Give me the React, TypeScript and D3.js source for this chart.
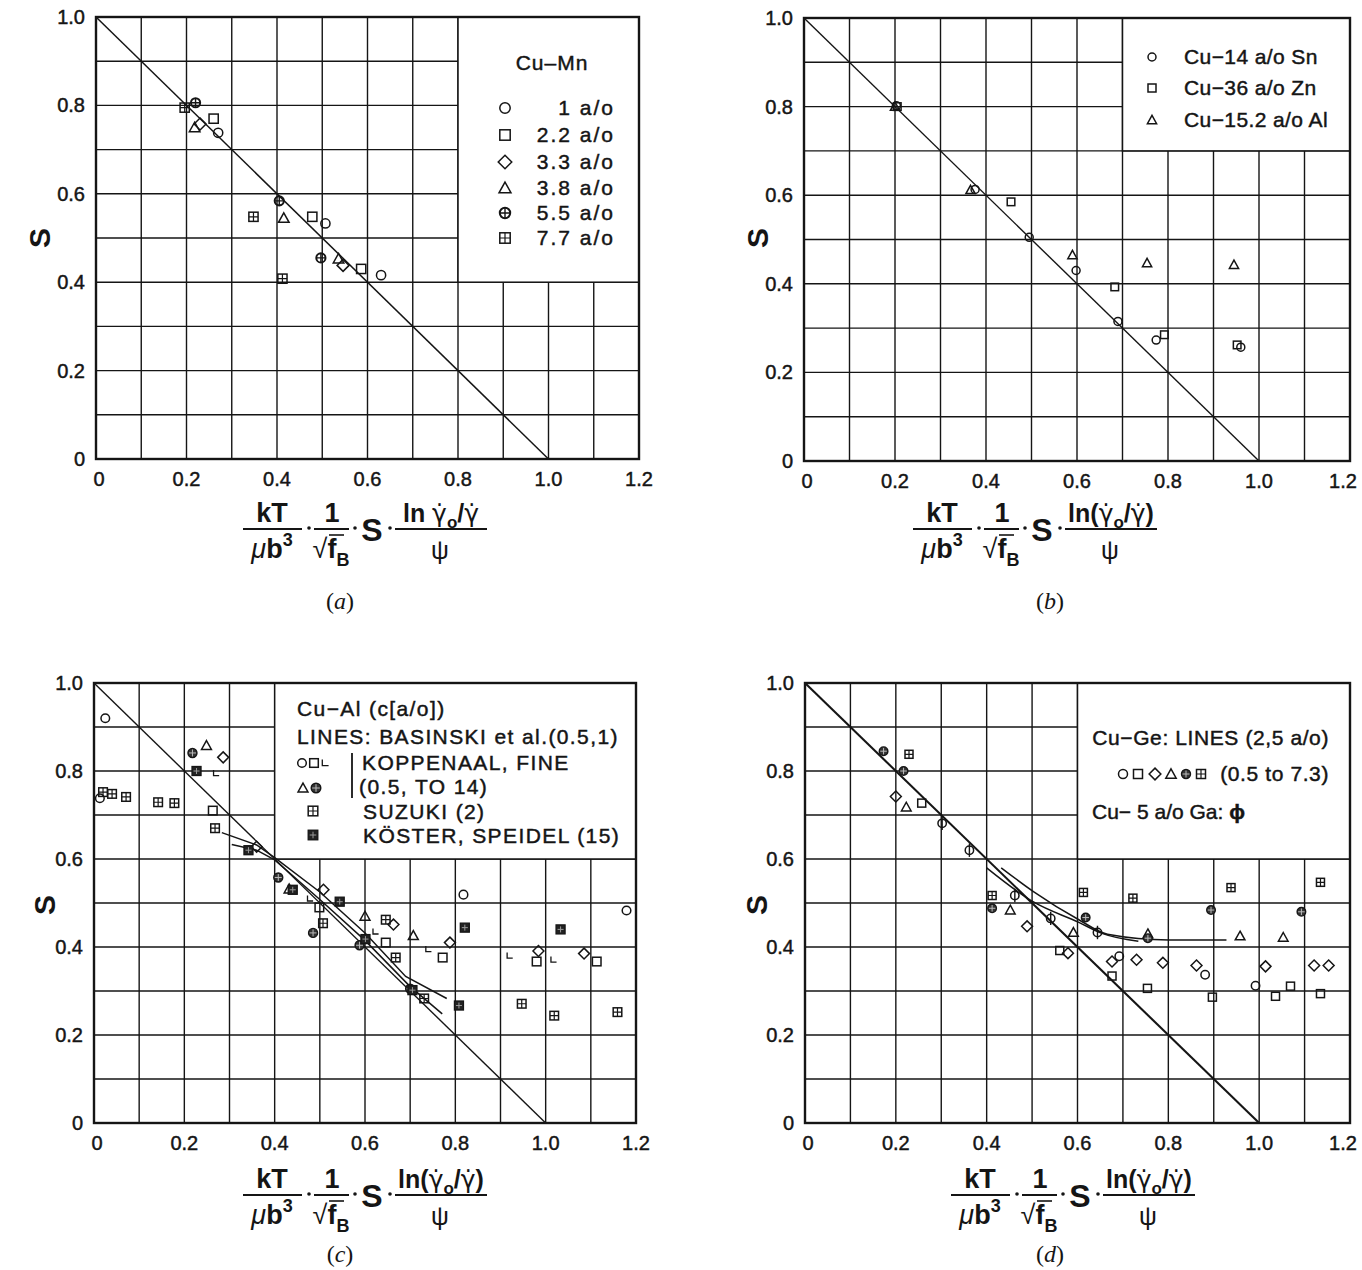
import * as d3 from 'd3';

type Pt = [number, number];
type Sym = 'circle' | 'square' | 'diamond' | 'triangle' | 'oplus' | 'oplusDark' | 'boxplus' | 'boxDark' | 'ell' | 'phi';

const FONT = '"Liberation Sans", Arial, Helvetica, sans-serif';
const SERIF = '"Liberation Serif", "Times New Roman", serif';
const INK = '#151515';

// shared axes
const xTicks = [0, 0.2, 0.4, 0.6, 0.8, 1.0, 1.2];
const xTickLabels = ['0', '0.2', '0.4', '0.6', '0.8', '1.0', '1.2'];
const yTicks = [0, 0.2, 0.4, 0.6, 0.8, 1.0];
const yTickLabels = ['0', '0.2', '0.4', '0.6', '0.8', '1.0'];
const gridX = [0.1, 0.2, 0.3, 0.4, 0.5, 0.6, 0.7, 0.8, 0.9, 1.0, 1.1];
const gridY = [0.1, 0.2, 0.3, 0.4, 0.5, 0.6, 0.7, 0.8, 0.9];
const diagonal: Pt[] = [[0, 1], [1, 0]];

// (a) Cu-Mn
const mn1: Pt[] = [[0.27, 0.738], [0.507, 0.533], [0.63, 0.416]];
const mn22: Pt[] = [[0.26, 0.77], [0.478, 0.548], [0.586, 0.43]];
const mn33: Pt[] = [[0.23, 0.758], [0.546, 0.438]];
const mn38: Pt[] = [[0.218, 0.75], [0.415, 0.545], [0.536, 0.453]];
const mn55: Pt[] = [[0.22, 0.806], [0.405, 0.584], [0.497, 0.455]];
const mn77: Pt[] = [[0.196, 0.795], [0.348, 0.548], [0.412, 0.408]];
const mnLabels = ['1 a/o', '2.2 a/o', '3.3 a/o', '3.8 a/o', '5.5 a/o', '7.7 a/o'];
const mnSyms: Sym[] = ['circle', 'square', 'diamond', 'triangle', 'oplus', 'boxplus'];

// (b) Cu-Sn, Cu-Zn, Cu-Al
const sn: Pt[] = [[0.203, 0.802], [0.376, 0.613], [0.495, 0.505], [0.598, 0.43], [0.69, 0.315], [0.774, 0.273], [0.96, 0.257]];
const zn: Pt[] = [[0.205, 0.8], [0.455, 0.585], [0.683, 0.393], [0.792, 0.285], [0.952, 0.262]];
const al: Pt[] = [[0.2, 0.8], [0.366, 0.612], [0.59, 0.465], [0.754, 0.447], [0.945, 0.443]];
const bLabels = ['Cu\u221214 a/o Sn', 'Cu\u221236 a/o Zn', 'Cu\u221215.2 a/o Al'];
const bSyms: Sym[] = ['circle', 'square', 'triangle'];

// (c) Cu-Al
const kopCircle: Pt[] = [[0.025, 0.92], [0.013, 0.738], [0.818, 0.519], [1.179, 0.483]];
const kopSquare: Pt[] = [[0.263, 0.71], [0.499, 0.49], [0.646, 0.41], [0.772, 0.376], [0.98, 0.367], [1.113, 0.367]];
const kopEll: Pt[] = [[0.27, 0.795], [0.478, 0.51], [0.623, 0.435], [0.74, 0.395], [0.92, 0.38], [1.017, 0.371]];
const kopTri: Pt[] = [[0.249, 0.858], [0.432, 0.532], [0.6, 0.47], [0.707, 0.426]];
const kopOplus: Pt[] = [[0.218, 0.841], [0.408, 0.558], [0.485, 0.432], [0.588, 0.404], [0.7, 0.305]];
const kopDiamond: Pt[] = [[0.286, 0.831], [0.36, 0.628], [0.508, 0.53], [0.663, 0.451], [0.788, 0.41], [0.984, 0.391], [1.085, 0.385]];
const suzuki: Pt[] = [[0.02, 0.752], [0.04, 0.748], [0.071, 0.741], [0.142, 0.729], [0.178, 0.727], [0.268, 0.67], [0.507, 0.454], [0.646, 0.462], [0.668, 0.376], [0.731, 0.283], [0.947, 0.271], [1.019, 0.244], [1.159, 0.252]];
const koster: Pt[] = [[0.227, 0.8], [0.342, 0.62], [0.44, 0.53], [0.544, 0.503], [0.601, 0.418], [0.705, 0.302], [0.808, 0.267], [0.821, 0.444], [1.033, 0.44]];
const basinskiA: Pt[] = [[0.283, 0.66], [0.36, 0.632], [0.4, 0.603], [0.5, 0.525], [0.6, 0.432], [0.69, 0.333], [0.781, 0.283]];
const basinskiB: Pt[] = [[0.305, 0.633], [0.36, 0.62], [0.4, 0.598], [0.5, 0.508], [0.6, 0.415], [0.7, 0.31], [0.771, 0.248]];

// (d) Cu-Ge, Cu-Ga
const geCircle: Pt[] = [[0.692, 0.379], [0.881, 0.337], [0.992, 0.312]];
const geSquare: Pt[] = [[0.257, 0.727], [0.561, 0.392], [0.676, 0.334], [0.754, 0.306], [0.897, 0.286], [1.036, 0.288], [1.069, 0.311], [1.135, 0.294]];
const geDiamond: Pt[] = [[0.2, 0.742], [0.489, 0.447], [0.579, 0.386], [0.676, 0.367], [0.73, 0.371], [0.788, 0.364], [0.862, 0.358], [1.014, 0.356], [1.121, 0.358], [1.153, 0.358]];
const geTri: Pt[] = [[0.223, 0.718], [0.452, 0.484], [0.591, 0.433], [0.755, 0.43], [0.958, 0.425], [1.053, 0.422]];
const geOplus: Pt[] = [[0.173, 0.845], [0.217, 0.8], [0.412, 0.488], [0.618, 0.467], [0.755, 0.42], [0.894, 0.484], [1.093, 0.48]];
const geBoxplus: Pt[] = [[0.229, 0.838], [0.412, 0.517], [0.613, 0.524], [0.722, 0.511], [0.938, 0.535], [1.135, 0.547]];
const gaPhi: Pt[] = [[0.302, 0.681], [0.362, 0.62], [0.462, 0.517], [0.541, 0.465], [0.644, 0.433]];
const geLineA: Pt[] = [[0.4, 0.58], [0.502, 0.503], [0.603, 0.456], [0.654, 0.431], [0.734, 0.413]];
const geLineB: Pt[] = [[0.432, 0.58], [0.503, 0.526], [0.603, 0.462], [0.666, 0.429], [0.801, 0.416], [0.928, 0.416]];
const dSyms: Sym[] = ['circle', 'square', 'diamond', 'triangle', 'oplusDark', 'boxplus'];

function Marker({ sym, x, y, r }: { sym: Sym; x: number; y: number; r: number }) {
  const common = { stroke: INK, strokeWidth: 1.5, fill: 'none' };
  switch (sym) {
    case 'circle':
      return <circle cx={x} cy={y} r={r} {...common} />;
    case 'square':
      return <rect x={x - r} y={y - r} width={2 * r} height={2 * r} {...common} />;
    case 'diamond': {
      const d = r * 1.3;
      return <path d={`M${x},${y - d}L${x + d},${y}L${x},${y + d}L${x - d},${y}Z`} {...common} />;
    }
    case 'triangle': {
      const d = r * 1.15;
      return <path d={`M${x},${y - d}L${x + d},${y + d * 0.8}L${x - d},${y + d * 0.8}Z`} {...common} />;
    }
    case 'oplus':
      return (
        <g>
          <circle cx={x} cy={y} r={r} {...common} strokeWidth={2} />
          <path d={`M${x - r},${y}H${x + r}M${x},${y - r}V${y + r}`} stroke={INK} strokeWidth={1.4} />
        </g>
      );
    case 'oplusDark':
      return (
        <g>
          <circle cx={x} cy={y} r={r} fill="#333" stroke={INK} strokeWidth={1.4} />
          <path d={`M${x - r + 1},${y}H${x + r - 1}M${x},${y - r + 1}V${y + r - 1}`} stroke="#bbb" strokeWidth={1} />
        </g>
      );
    case 'boxplus':
      return (
        <g>
          <rect x={x - r} y={y - r} width={2 * r} height={2 * r} {...common} />
          <path d={`M${x - r},${y}H${x + r}M${x},${y - r}V${y + r}`} stroke={INK} strokeWidth={1.2} />
        </g>
      );
    case 'boxDark':
      return (
        <g>
          <rect x={x - r} y={y - r} width={2 * r} height={2 * r} fill="#222" stroke={INK} strokeWidth={1.3} />
          <path d={`M${x - r + 1.5},${y}H${x + r - 1.5}M${x},${y - r + 1.5}V${y + r - 1.5}`} stroke="#999" strokeWidth={1} />
        </g>
      );
    case 'ell':
      return <path d={`M${x - r * 0.6},${y - r * 0.8}V${y + r * 0.6}H${x + r * 0.8}`} fill="none" stroke={INK} strokeWidth={1.3} />;
    case 'phi':
      return (
        <g>
          <circle cx={x} cy={y} r={r} {...common} />
          <path d={`M${x},${y - r * 1.6}V${y + r * 1.6}`} stroke={INK} strokeWidth={1.4} />
        </g>
      );
  }
  return null;
}

interface Frame { x0: number; x1: number; y0: number; y1: number }
interface Series { sym: Sym; pts: Pt[]; r: number }

// printed lettering is a little heavier than the plain font
const ink = { fontFamily: FONT, fill: INK, stroke: INK, strokeWidth: 0.45 };

function Panel({ frame, legendAt, series, curves, smooth, diagWidth, sLabel, children }: {
  frame: Frame;
  legendAt: Pt;
  series: Series[];
  curves: Pt[][];
  smooth: boolean;
  diagWidth: number;
  sLabel: Pt;
  children?: any;
}) {
  const x = d3.scaleLinear().domain([0, 1.2]).range([frame.x0, frame.x1]);
  const y = d3.scaleLinear().domain([0, 1]).range([frame.y1, frame.y0]);
  const line = d3.line<Pt>().x((d) => x(d[0])).y((d) => y(d[1])).curve(smooth ? d3.curveMonotoneX : d3.curveLinear);

  return (
    <g>
      {gridX.map((v) => (
        <line key={'gx' + v} x1={x(v)} x2={x(v)} y1={y(0)} y2={y(1)} stroke={INK} strokeWidth={1.4} />
      ))}
      {gridY.map((v) => (
        <line key={'gy' + v} x1={x(0)} x2={x(1.2)} y1={y(v)} y2={y(v)} stroke={INK} strokeWidth={1.4} />
      ))}
      <rect
        x={x(legendAt[0])}
        y={y(1)}
        width={x(1.2) - x(legendAt[0])}
        height={y(legendAt[1]) - y(1)}
        fill="white"
        stroke={INK}
        strokeWidth={1.5}
      />
      <path d={line(diagonal) || ''} fill="none" stroke={INK} strokeWidth={diagWidth} />
      {curves.map((c, i) => (
        <path key={'c' + i} d={line(c) || ''} fill="none" stroke={INK} strokeWidth={1.5} />
      ))}
      {series.map((s, i) =>
        s.pts.map((p, j) => <Marker key={`m${i}-${j}`} sym={s.sym} x={x(p[0])} y={y(p[1])} r={s.r} />)
      )}
      <rect x={x(0)} y={y(1)} width={x(1.2) - x(0)} height={y(0) - y(1)} fill="none" stroke={INK} strokeWidth={2.4} />
      {yTicks.map((v, i) => (
        <text key={'yt' + v} x={x(0) - 11} y={y(v) + 7} textAnchor="end" fontSize={20} {...ink}>
          {yTickLabels[i]}
        </text>
      ))}
      {xTicks.map((v, i) => (
        <text
          key={'xt' + v}
          x={Math.min(x(v) + (i === 0 ? 3 : 0), 1343)}
          y={y(0) + 27}
          textAnchor="middle"
          fontSize={20}
          {...ink}
        >
          {xTickLabels[i]}
        </text>
      ))}
      <text
        transform={`translate(${sLabel[0]},${sLabel[1]}) rotate(-90)`}
        textAnchor="middle"
        fontSize={30}
        fontWeight="bold"
        fontFamily={FONT}
        fill={INK}
      >
        S
      </text>
      {children}
    </g>
  );
}

function Formula({ cx, by, paren }: { cx: number; by: number; paren: boolean }) {
  const dot = (px: number) => <circle cx={px} cy={by - 1} r={1.8} fill={INK} />;
  const gFont = '"DejaVu Sans", sans-serif';
  return (
    <g fontFamily={FONT} fill={INK}>
      <text x={cx + 4} y={by - 7} textAnchor="middle" fontSize={27} fontWeight="bold">kT</text>
      <line x1={cx - 25} x2={cx + 34} y1={by} y2={by} stroke={INK} strokeWidth={2.2} />
      <text x={cx + 4} y={by + 29} textAnchor="middle" fontSize={27}>
        <tspan fontStyle="italic">μ</tspan>
        <tspan fontWeight="bold">b</tspan>
        <tspan fontSize={18} dy={-12} fontWeight="bold">3</tspan>
      </text>
      {dot(cx + 41)}
      <text x={cx + 64} y={by - 7} textAnchor="middle" fontSize={27} fontWeight="bold">1</text>
      <line x1={cx + 46} x2={cx + 81} y1={by} y2={by} stroke={INK} strokeWidth={2.2} />
      <text x={cx + 63} y={by + 29} textAnchor="middle" fontSize={27}>
        <tspan>√</tspan>
        <tspan fontWeight="bold">f</tspan>
        <tspan fontSize={18} dy={8} fontWeight="bold">B</tspan>
      </text>
      <line x1={cx + 61} x2={cx + 76} y1={by + 6} y2={by + 6} stroke={INK} strokeWidth={1.6} />
      {dot(cx + 87)}
      <text x={cx + 104} y={by + 12} textAnchor="middle" fontSize={32} fontWeight="bold">S</text>
      {dot(cx + 122)}
      <text x={cx + 173} y={by - 7} textAnchor="middle" fontSize={25} fontWeight="bold">
        {paren ? 'ln(' : 'ln '}
        <tspan fontFamily={gFont} fontWeight="normal">{'\u03B3\u0307'}</tspan>
        <tspan fontSize={17} dy={6}>o</tspan>
        <tspan dy={-6}>/</tspan>
        <tspan fontFamily={gFont} fontWeight="normal">{'\u03B3\u0307'}</tspan>
        {paren ? ')' : ''}
      </text>
      <line x1={cx + 127} x2={cx + 219} y1={by} y2={by} stroke={INK} strokeWidth={2.2} />
      <text x={cx + 172} y={by + 30} textAnchor="middle" fontSize={25}>ψ</text>
    </g>
  );
}

function Caption({ x, y, letter }: { x: number; y: number; letter: string }) {
  return (
    <text x={x} y={y} textAnchor="middle" fontSize={24} fontFamily={SERIF} fill={INK}>
      (<tspan fontStyle="italic">{letter}</tspan>)
    </text>
  );
}

export default function App() {
  const frameA: Frame = { x0: 96, x1: 639, y0: 17, y1: 459 };
  const frameB: Frame = { x0: 804, x1: 1350, y0: 18, y1: 461 };
  const frameC: Frame = { x0: 94, x1: 636, y0: 683, y1: 1123 };
  const frameD: Frame = { x0: 805, x1: 1350, y0: 683, y1: 1123 };

  const mnSeries = [mn1, mn22, mn33, mn38, mn55, mn77];
  const mnRows = [108, 135, 162, 188, 213, 238];
  const bRows = [57, 88, 120];
  const dSymX = [1123, 1138, 1155, 1171, 1186, 1201];
  const wideC = { ...ink, fontSize: 21, letterSpacing: 1.4 };

  return (
    <svg width={1362} height={1270} style={{ position: 'absolute', left: 0, top: 0, background: 'white' }}>
      <rect width={1362} height={1270} fill="white" />

      <Panel
        frame={frameA}
        legendAt={[0.8, 0.4]}
        series={mnSeries.map((pts, i) => ({ sym: mnSyms[i], pts, r: 4.6 }))}
        curves={[]}
        smooth={false}
        diagWidth={1.5}
        sLabel={[50, 238]}
      >
        <text x={552} y={70} textAnchor="middle" fontSize={21} letterSpacing={1} {...ink}>Cu–Mn</text>
        {mnLabels.map((l, i) => (
          <g key={l}>
            <Marker sym={mnSyms[i]} x={505} y={mnRows[i]} r={5.2} />
            <text x={615} y={mnRows[i] + 7} textAnchor="end" fontSize={21} letterSpacing={2} {...ink}>{l}</text>
          </g>
        ))}
      </Panel>
      <Formula cx={268} by={529} paren={false} />
      <Caption x={340} y={609} letter="a" />

      <Panel
        frame={frameB}
        legendAt={[0.7, 0.7]}
        series={[
          { sym: 'circle', pts: sn, r: 4 },
          { sym: 'square', pts: zn, r: 3.8 },
          { sym: 'triangle', pts: al, r: 4 },
        ]}
        curves={[]}
        smooth={false}
        diagWidth={1.4}
        sLabel={[768, 238]}
      >
        {bLabels.map((l, i) => (
          <g key={l}>
            <Marker sym={bSyms[i]} x={1152} y={bRows[i]} r={4} />
            <text x={1184} y={bRows[i] + 7} fontSize={21} letterSpacing={0.4} {...ink}>{l}</text>
          </g>
        ))}
      </Panel>
      <Formula cx={938} by={529} paren={true} />
      <Caption x={1050} y={609} letter="b" />

      <Panel
        frame={frameC}
        legendAt={[0.4, 0.6]}
        series={[
          { sym: 'circle', pts: kopCircle, r: 4.3 },
          { sym: 'square', pts: kopSquare, r: 4.3 },
          { sym: 'ell', pts: kopEll, r: 4 },
          { sym: 'triangle', pts: kopTri, r: 4.3 },
          { sym: 'oplusDark', pts: kopOplus, r: 4.5 },
          { sym: 'diamond', pts: kopDiamond, r: 4.2 },
          { sym: 'boxplus', pts: suzuki, r: 4.3 },
          { sym: 'boxDark', pts: koster, r: 4.5 },
        ]}
        curves={[basinskiA, basinskiB]}
        smooth={false}
        diagWidth={1.4}
        sLabel={[55, 905]}
      >
        <text x={297} y={716} {...wideC}>Cu−Al (c[a/o])</text>
        <text x={297} y={744} {...wideC}>LINES:  BASINSKI et al.(0.5,1)</text>
        <Marker sym="circle" x={302} y={763} r={4.3} />
        <Marker sym="square" x={314} y={763} r={4.3} />
        <Marker sym="ell" x={325} y={763} r={4.5} />
        <line x1={352} x2={352} y1={753} y2={798} stroke={INK} strokeWidth={1.8} />
        <text x={362} y={770} {...wideC}>KOPPENAAL, FINE</text>
        <Marker sym="triangle" x={303} y={788} r={4.3} />
        <Marker sym="oplusDark" x={316} y={788} r={4.8} />
        <text x={359} y={794} {...wideC}>(0.5, TO  14)</text>
        <Marker sym="boxplus" x={313} y={811} r={4.8} />
        <text x={363} y={819} {...wideC}>SUZUKI (2)</text>
        <Marker sym="boxDark" x={313} y={835} r={4.8} />
        <text x={363} y={843} {...wideC}>KÖSTER, SPEIDEL (15)</text>
      </Panel>
      <Formula cx={268} by={1195} paren={true} />
      <Caption x={340} y={1262} letter="c" />

      <Panel
        frame={frameD}
        legendAt={[0.6, 0.6]}
        series={[
          { sym: 'circle', pts: geCircle, r: 4.2 },
          { sym: 'square', pts: geSquare, r: 4 },
          { sym: 'diamond', pts: geDiamond, r: 4.2 },
          { sym: 'triangle', pts: geTri, r: 4.2 },
          { sym: 'oplusDark', pts: geOplus, r: 4.3 },
          { sym: 'boxplus', pts: geBoxplus, r: 4 },
          { sym: 'phi', pts: gaPhi, r: 4.2 },
        ]}
        curves={[geLineA, geLineB]}
        smooth={true}
        diagWidth={2.1}
        sLabel={[767, 905]}
      >
        <text x={1329} y={745} textAnchor="end" fontSize={21} letterSpacing={0.6} {...ink}>Cu−Ge: LINES (2,5 a/o)</text>
        {dSyms.map((s, i) => (
          <Marker key={s} sym={s} x={dSymX[i]} y={774} r={4.5} />
        ))}
        <text x={1329} y={781} textAnchor="end" fontSize={21} letterSpacing={0.6} {...ink}>(0.5 to 7.3)</text>
        <text x={1092} y={819} fontSize={21} {...ink}>
          Cu− 5 a/o Ga: <tspan fontWeight="bold">ϕ</tspan>
        </text>
      </Panel>
      <Formula cx={976} by={1195} paren={true} />
      <Caption x={1050} y={1262} letter="d" />
    </svg>
  );
}
